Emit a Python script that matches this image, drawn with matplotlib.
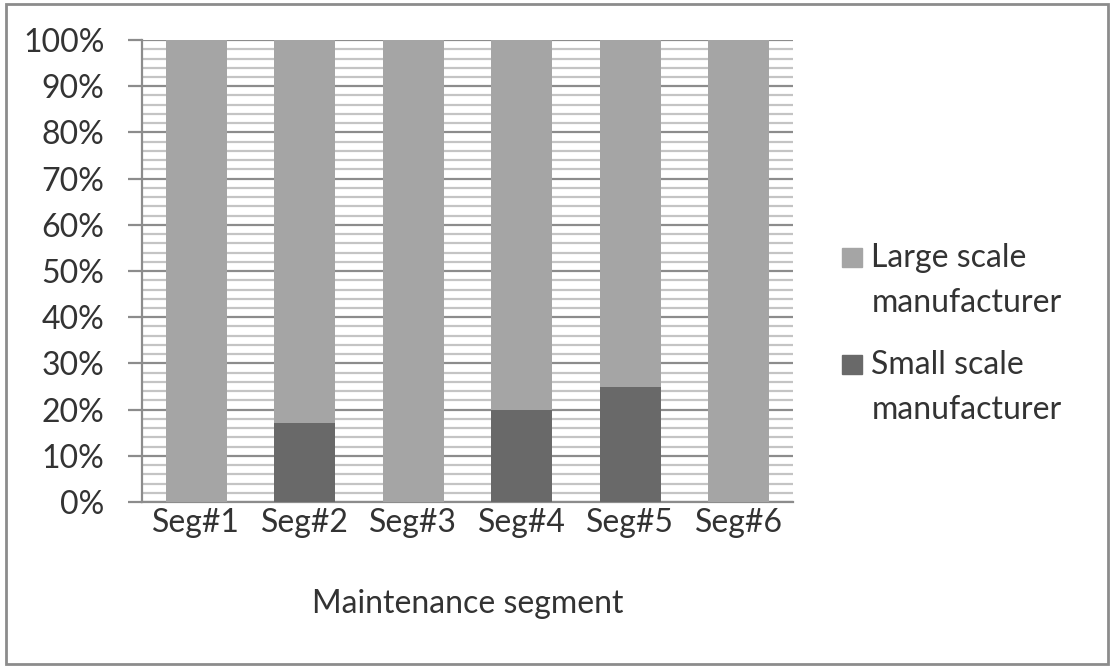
import matplotlib
matplotlib.use("Agg")
import matplotlib.pyplot as plt
from matplotlib.patches import Rectangle
from matplotlib.ticker import MultipleLocator, PercentFormatter
import numpy as np

# Share of each manufacturer type per maintenance segment (%)
segments = ["Seg#1", "Seg#2", "Seg#3", "Seg#4", "Seg#5", "Seg#6"]
small_scale = [0, 17, 0, 20, 25, 0]
large_scale = [100, 83, 100, 80, 75, 100]
series_names = ["Large scale\nmanufacturer", "Small scale\nmanufacturer"]
series_colors = ["#a5a5a5", "#696969"]

plt.rcParams["font.family"] = ["Lato", "DejaVu Sans"]
text_color = "#333333"
font_size = 23

fig = plt.figure(figsize=(11.1, 6.66), dpi=100)
ax = fig.add_axes([0.128, 0.2462, 0.5865, 0.6937])

x = np.arange(len(segments))
ax.bar(x, small_scale, width=0.56, color=series_colors[1], zorder=3)
ax.bar(x, large_scale, width=0.56, bottom=small_scale, color=series_colors[0], zorder=3)

ax.set_xlim(-0.5, len(segments) - 0.5)
ax.set_ylim(0, 100)
ax.yaxis.set_major_locator(MultipleLocator(10))
ax.yaxis.set_minor_locator(MultipleLocator(2))
ax.yaxis.set_major_formatter(PercentFormatter(decimals=0))
ax.grid(which="major", axis="y", color="#8c8c8c", linewidth=1.6, zorder=1)
ax.grid(which="minor", axis="y", color="#c4c4c4", linewidth=1.6, zorder=1)

for side in ["top", "right"]:
    ax.spines[side].set_visible(False)
for side in ["left", "bottom"]:
    ax.spines[side].set_color("#8c8c8c")
    ax.spines[side].set_linewidth(1.6)

ax.tick_params(axis="y", which="major", length=10, width=1.6, color="#8c8c8c",
               labelsize=font_size, labelcolor=text_color, pad=17)
ax.tick_params(axis="y", which="minor", length=0)
ax.tick_params(axis="x", length=0, labelsize=font_size, labelcolor=text_color, pad=4)
ax.set_xticks(x)
ax.set_xticklabels(segments)
ax.set_xlabel("Maintenance segment", fontsize=font_size, color=text_color, labelpad=37)

# Legend: square swatch beside the first line of each two-line label
line_gap = 45 / 666
for i, (name, color) in enumerate(zip(series_names, series_colors)):
    base = 0.599 - i * (107 / 666)
    fig.patches.append(Rectangle((0.7586, base), 0.018, 0.0285,
                                 transform=fig.transFigure, color=color))
    for j, line in enumerate(name.split("\n")):
        fig.text(0.785, base - j * line_gap, line, fontsize=font_size,
                 color=text_color, va="baseline", ha="left")

# Outer frame
fig.patches.append(Rectangle((0.005, 0.003), 0.993, 0.991, transform=fig.transFigure,
                             fill=False, edgecolor="#8c8c8c", linewidth=2))

fig.savefig("out.png", dpi=100)
